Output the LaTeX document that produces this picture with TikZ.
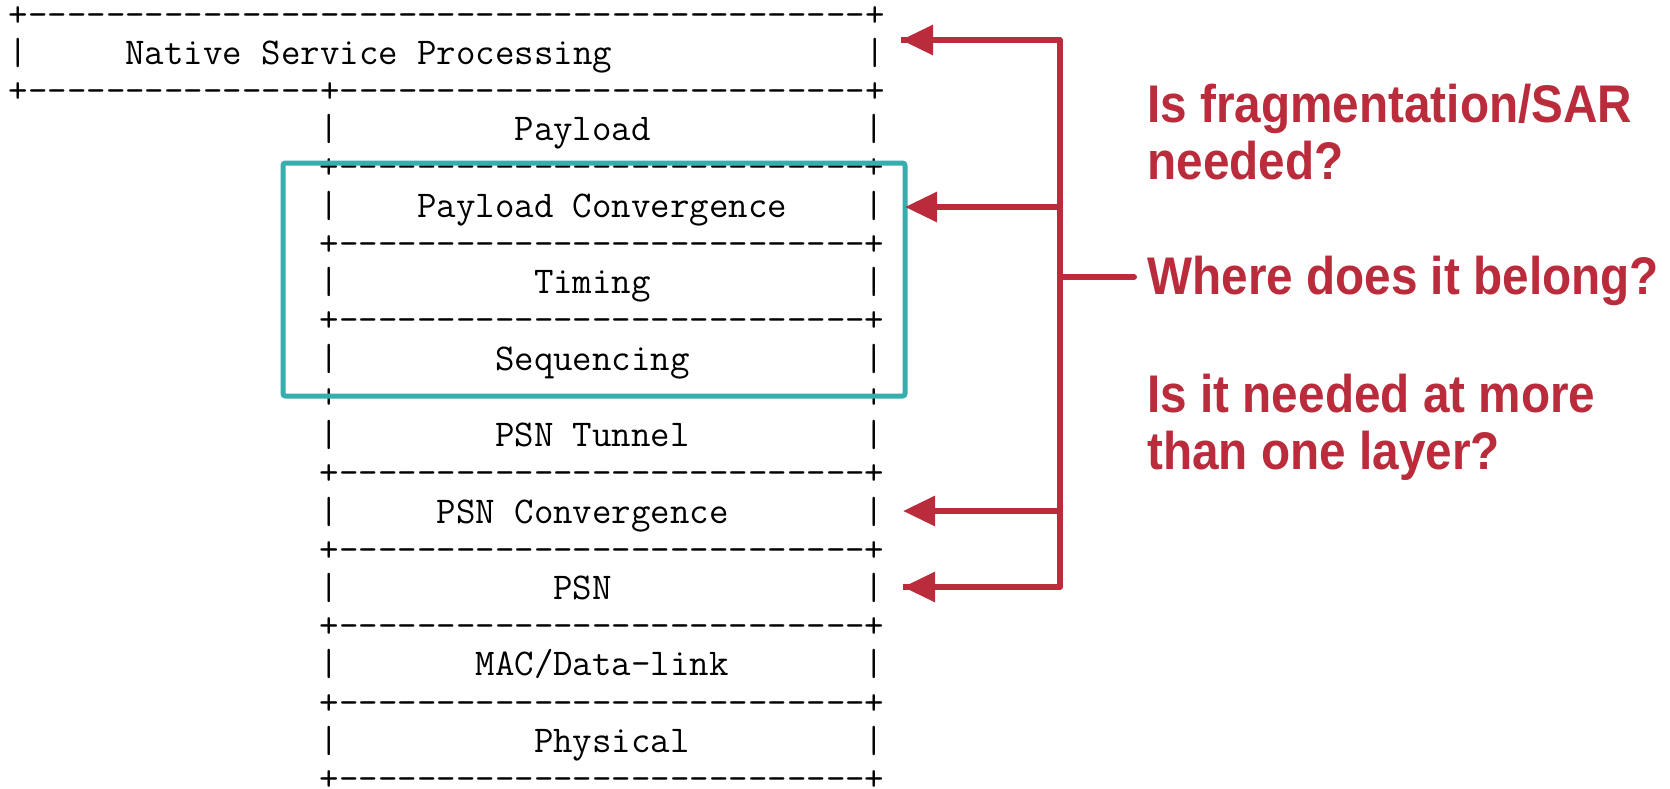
\documentclass[tikz,border=0pt]{standalone}
\usepackage{fontspec}
\usetikzlibrary{arrows.meta}
\newfontfamily\askfont{Liberation Sans}[FakeStretch=0.9]
\definecolor{askred}{HTML}{BA2B3B}
\definecolor{scopeteal}{HTML}{36AEAD}
% fixed-width blank of n character cells in the current font
\newcommand\gap[1]{\hspace*{\dimexpr#1\fontcharwd\font`M\relax}}
\ExplSyntaxOn
\NewDocumentCommand\dashes{m}{\prg_replicate:nn{#1}{-}}
\ExplSyntaxOff
\tikzset{
  row/.style={anchor=base west, inner sep=0pt,
    font=\ttfamily\fontsize{18.9pt}{18.9pt}\selectfont},
  ask/.style={anchor=base west, inner sep=0pt, align=left, text=askred,
    font=\askfont\bfseries\fontsize{26.5pt}{28.25pt}\selectfont},
  link/.style={draw=askred, line width=3pt},
  pointer/.style={link, -{Triangle[length=16pt,width=14.5pt]}},
  scopebox/.style={draw=scopeteal, line width=2.5pt, rounded corners=1.2pt}
}
\begin{document}
\begin{tikzpicture}[x=0.5pt,y=-0.5pt]
\useasboundingbox (0,0) rectangle (1670,788);
\fill[white] (0,0) rectangle (1670,788);

% layer stack, one text line per row
\node[row] (b0)  at (8.3,   {26+38.23*0})  {+\dashes{43}+};
\node[row] (nsp) at (8.3,   {26+38.23*1})  {|\gap5Native\gap1Service\gap1Processing\gap{13}|};
\node[row] (b1)  at (8.3,   {26+38.23*2})  {+\dashes{15}+\dashes{27}+};
\node[row] (pay) at (319.5, {26+38.23*3})  {|\gap9Payload\gap{11}|};
\node[row] (b2)  at (319.5, {26+38.23*4})  {+\dashes{27}+};
\node[row] (pcv) at (319.5, {26+38.23*5})  {|\gap4Payload\gap1Convergence\gap4|};
\node[row] (b3)  at (319.5, {26+38.23*6})  {+\dashes{27}+};
\node[row] (tim) at (319.5, {26+38.23*7})  {|\gap{10}Timing\gap{11}|};
\node[row] (b4)  at (319.5, {26+38.23*8})  {+\dashes{27}+};
\node[row] (seq) at (319.5, {26+38.23*9})  {|\gap8Sequencing\gap9|};
\node[row] (b5)  at (319.5, {26+38.23*10}) {+\dashes{27}+};
\node[row] (tun) at (319.5, {26+38.23*11}) {|\gap8PSN\gap1Tunnel\gap9|};
\node[row] (b6)  at (319.5, {26+38.23*12}) {+\dashes{27}+};
\node[row] (psc) at (319.5, {26+38.23*13}) {|\gap5PSN\gap1Convergence\gap7|};
\node[row] (b7)  at (319.5, {26+38.23*14}) {+\dashes{27}+};
\node[row] (psn) at (319.5, {26+38.23*15}) {|\gap{11}PSN\gap{13}|};
\node[row] (b8)  at (319.5, {26+38.23*16}) {+\dashes{27}+};
\node[row] (mac) at (319.5, {26+38.23*17}) {|\gap7MAC/Data-link\gap7|};
\node[row] (b9)  at (319.5, {26+38.23*18}) {+\dashes{27}+};
\node[row] (phy) at (319.5, {26+38.23*19}) {|\gap{10}Physical\gap9|};
\node[row] (b10) at (319.5, {26+38.23*20}) {+\dashes{27}+};

% the three layers that belong together
\draw[scopebox] (283,163) rectangle (905,396);

% questions (anchored on the baseline of their last line)
\node[ask] (q1) at (1147,179) {Is fragmentation/SAR\\needed?};
\node[ask] (q2) at (1147,294) {Where does it belong?};
\node[ask] (q3) at (1147,469) {Is it needed at more\\than one layer?};

% bracket from the question to the candidate layers
\coordinate (top)  at (1060,40);
\coordinate (bot)  at (1060,587);
\coordinate (mid)  at (1060,277);
\coordinate (tick) at (1134,277);
\coordinate (tA) at (901,40);
\coordinate (tB) at (905,207);
\coordinate (tC) at (903,511);
\coordinate (tD) at (903,587);
\coordinate (jB) at (1060,207);
\coordinate (jC) at (1060,511);

\draw[link, line join=round] (tA) -- (top) -- (bot) -- (tD);
\draw[pointer] (top) -- (tA);
\draw[pointer] (jB) -- (tB);
\draw[pointer] (jC) -- (tC);
\draw[pointer] (bot) -- (tD);
\draw[link, line cap=round] (mid) -- (tick);
\end{tikzpicture}
\end{document}
